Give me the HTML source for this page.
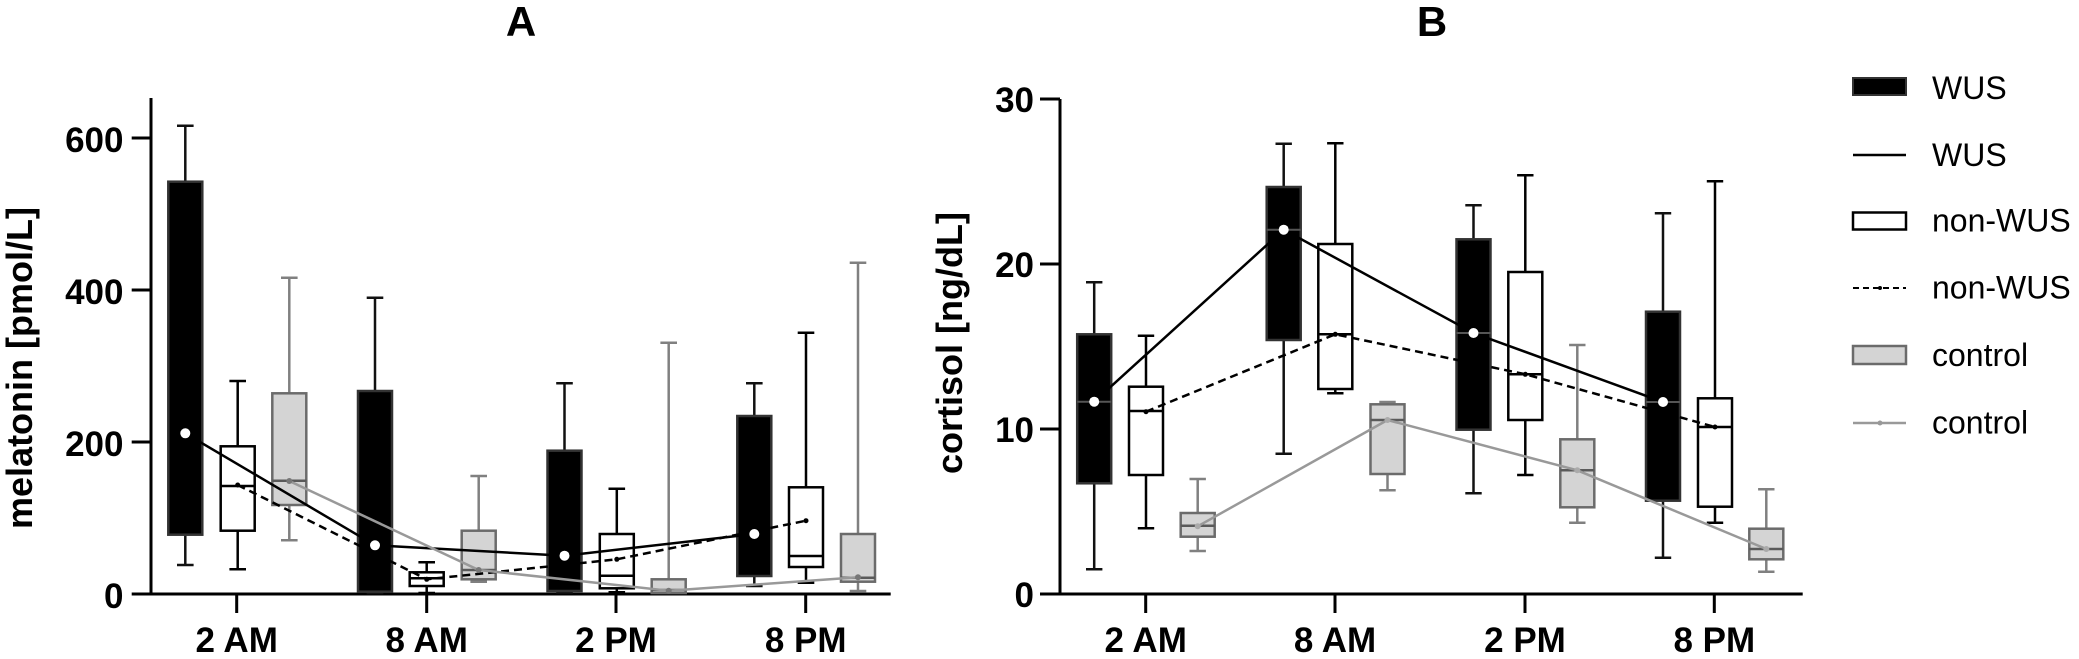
<!DOCTYPE html>
<html>
<head>
<meta charset="utf-8">
<style>
html,body{margin:0;padding:0;background:#fff;}
svg{display:block;}
text{font-family:"Liberation Sans",Arial,sans-serif;fill:#000;}
.ax{stroke:#000;stroke-width:3;fill:none;}
.tl{font-size:35px;font-weight:bold;}
.w line{stroke:#111;stroke-width:2.5;}
.w rect{fill:#000;stroke:#333;stroke-width:2.5;}
.w .md{stroke:#555;stroke-width:2;}
.n line{stroke:#000;stroke-width:2.5;}
.n rect{fill:#fff;stroke:#000;stroke-width:2.5;}
.c line{stroke:#808080;stroke-width:2.5;}
.c rect{fill:#d4d4d4;stroke:#6b6b6b;stroke-width:2.5;}
.c .md{stroke:#5a5a5a;stroke-width:2.5;}
.lw{stroke:#000;stroke-width:2.5;fill:none;}
.ln{stroke:#000;stroke-width:2.5;fill:none;stroke-dasharray:8 5;}
.lc{stroke:#999;stroke-width:2.5;fill:none;}
.leg{font-size:32px;}
</style>
</head>
<body>
<svg width="2079" height="659" viewBox="0 0 2079 659" xmlns="http://www.w3.org/2000/svg">
<rect width="2079" height="659" fill="#fff"/>

<!-- Titles -->
<text x="521" y="36" font-size="42" font-weight="bold" text-anchor="middle">A</text>
<text x="1432" y="36" font-size="42" font-weight="bold" text-anchor="middle">B</text>

<!-- ================= PANEL A ================= -->
<text transform="translate(32,368) rotate(-90)" font-size="36" font-weight="bold" text-anchor="middle">melatonin [pmol/L]</text>
<path class="ax" d="M151,98 V594 M131.7,138 H151 M131.7,290 H151 M131.7,442 H151 M131.7,594 H890.7 M236.7,594 V613 M426.7,594 V613 M616,594 V613 M805.7,594 V613"/>
<text class="tl" x="123.5" y="152" text-anchor="end">600</text>
<text class="tl" x="123.5" y="304" text-anchor="end">400</text>
<text class="tl" x="123.5" y="456" text-anchor="end">200</text>
<text class="tl" x="123.5" y="608" text-anchor="end">0</text>
<text class="tl" x="236.7" y="652" text-anchor="middle">2 AM</text>
<text class="tl" x="426.7" y="652" text-anchor="middle">8 AM</text>
<text class="tl" x="616" y="652" text-anchor="middle">2 PM</text>
<text class="tl" x="805.7" y="652" text-anchor="middle">8 PM</text>

<!-- A 2AM -->
<g class="w"><line x1="185.3" y1="125.7" x2="185.3" y2="565"/><line x1="177" y1="125.7" x2="193.6" y2="125.7"/><line x1="177" y1="565" x2="193.6" y2="565"/><rect x="168.3" y="181.7" width="34" height="353"/></g>
<g class="n"><line x1="237.7" y1="381" x2="237.7" y2="569.3"/><line x1="229.4" y1="381" x2="246" y2="381"/><line x1="229.4" y1="569.3" x2="246" y2="569.3"/><rect x="220.7" y="446.3" width="34" height="84.4"/><line x1="220.7" y1="486" x2="254.7" y2="486"/></g>
<g class="c"><line x1="289.3" y1="277.7" x2="289.3" y2="540.3"/><line x1="281" y1="277.7" x2="297.6" y2="277.7"/><line x1="281" y1="540.3" x2="297.6" y2="540.3"/><rect x="272.3" y="393.3" width="34" height="111.7"/><line class="md" x1="272.3" y1="480.7" x2="306.3" y2="480.7"/></g>
<!-- A 8AM -->
<g class="w"><line x1="375" y1="297.7" x2="375" y2="593.5"/><line x1="366.7" y1="297.7" x2="383.3" y2="297.7"/><line x1="366.7" y1="593" x2="383.3" y2="593"/><rect x="358" y="391" width="34" height="200.7"/></g>
<g class="n"><line x1="426.7" y1="562.3" x2="426.7" y2="593.3"/><line x1="418.4" y1="562.3" x2="435" y2="562.3"/><line x1="418.4" y1="593" x2="435" y2="593"/><rect x="409.7" y="572.3" width="34" height="13.7"/><line x1="409.7" y1="578.3" x2="443.7" y2="578.3"/></g>
<g class="c"><line x1="478.7" y1="476" x2="478.7" y2="581.7"/><line x1="470.4" y1="476" x2="487" y2="476"/><line x1="470.4" y1="581.7" x2="487" y2="581.7"/><rect x="461.7" y="530.7" width="34" height="48.6"/><line class="md" x1="461.7" y1="570" x2="495.7" y2="570"/></g>
<!-- A 2PM -->
<g class="w"><line x1="564.5" y1="383.3" x2="564.5" y2="592.5"/><line x1="556.2" y1="383.3" x2="572.8" y2="383.3"/><line x1="556.2" y1="592.5" x2="572.8" y2="592.5"/><rect x="547.5" y="450.7" width="34" height="140.3"/></g>
<g class="n"><line x1="616.8" y1="488.7" x2="616.8" y2="592.3"/><line x1="608.5" y1="488.7" x2="625.1" y2="488.7"/><line x1="608.5" y1="592.3" x2="625.1" y2="592.3"/><rect x="599.8" y="534" width="34" height="54.3"/><line x1="599.8" y1="575.7" x2="633.8" y2="575.7"/></g>
<g class="c"><line x1="668.7" y1="342.7" x2="668.7" y2="593.5"/><line x1="660.4" y1="342.7" x2="677" y2="342.7"/><rect x="651.7" y="579.3" width="34" height="13.7"/><line class="md" x1="651.7" y1="590" x2="685.7" y2="590"/></g>
<!-- A 8PM -->
<g class="w"><line x1="754.3" y1="383.3" x2="754.3" y2="586"/><line x1="746" y1="383.3" x2="762.6" y2="383.3"/><line x1="746" y1="586" x2="762.6" y2="586"/><rect x="737.3" y="416" width="34" height="160"/></g>
<g class="n"><line x1="806" y1="332.7" x2="806" y2="582.7"/><line x1="797.7" y1="332.7" x2="814.3" y2="332.7"/><line x1="797.7" y1="582.7" x2="814.3" y2="582.7"/><rect x="789" y="487.3" width="34" height="79.7"/><line x1="789" y1="556" x2="823" y2="556"/></g>
<g class="c"><line x1="858" y1="262.7" x2="858" y2="591"/><line x1="849.7" y1="262.7" x2="866.3" y2="262.7"/><line x1="849.7" y1="591" x2="866.3" y2="591"/><rect x="841" y="534" width="34" height="47.7"/><line class="md" x1="841" y1="577.7" x2="875" y2="577.7"/></g>

<!-- A connecting lines -->
<polyline class="lw" points="185.3,433.3 375,545.3 564.5,555.7 754.3,534"/>
<polyline class="ln" points="237.7,485 426.7,579.3 616.8,559.3 806,520.7"/>
<polyline class="lc" points="289.3,481 478.7,570 668.7,590.7 858,577.3"/>
<!-- A means -->
<g fill="#fff"><circle cx="185.3" cy="433.3" r="5"/><circle cx="375" cy="545.3" r="5"/><circle cx="564.5" cy="555.7" r="5"/><circle cx="754.3" cy="534" r="5"/></g>
<g fill="#000"><circle cx="237.7" cy="485" r="2.5"/><circle cx="426.7" cy="579.3" r="2.5"/><circle cx="616.8" cy="559.3" r="2.5"/><circle cx="806" cy="520.7" r="2.5"/></g>
<g fill="#777"><circle cx="289.3" cy="481" r="3"/><circle cx="478.7" cy="570" r="3"/><circle cx="668.7" cy="590.7" r="3"/><circle cx="858" cy="577.3" r="3"/></g>

<!-- ================= PANEL B ================= -->
<text transform="translate(962,343) rotate(-90)" font-size="36" font-weight="bold" text-anchor="middle">cortisol [ng/dL]</text>
<path class="ax" d="M1060,99 V594 M1040,99 H1060 M1040,264 H1060 M1040,429 H1060 M1040,594 H1802.7 M1145.7,594 V613 M1335,594 V613 M1525,594 V613 M1714.3,594 V613"/>
<text class="tl" x="1034" y="112" text-anchor="end">30</text>
<text class="tl" x="1034" y="277" text-anchor="end">20</text>
<text class="tl" x="1034" y="442" text-anchor="end">10</text>
<text class="tl" x="1034" y="607" text-anchor="end">0</text>
<text class="tl" x="1145.7" y="652" text-anchor="middle">2 AM</text>
<text class="tl" x="1335" y="652" text-anchor="middle">8 AM</text>
<text class="tl" x="1525" y="652" text-anchor="middle">2 PM</text>
<text class="tl" x="1714.3" y="652" text-anchor="middle">8 PM</text>

<!-- B 2AM -->
<g class="w"><line x1="1094.2" y1="282.3" x2="1094.2" y2="569.3"/><line x1="1086" y1="282.3" x2="1102.4" y2="282.3"/><line x1="1086" y1="569.3" x2="1102.4" y2="569.3"/><rect x="1077.2" y="334.3" width="34" height="149"/><line class="md" x1="1077.2" y1="401.7" x2="1111.2" y2="401.7"/></g>
<g class="n"><line x1="1146" y1="335.7" x2="1146" y2="528.3"/><line x1="1137.8" y1="335.7" x2="1154.2" y2="335.7"/><line x1="1137.8" y1="528.3" x2="1154.2" y2="528.3"/><rect x="1129" y="386.7" width="34" height="88.3"/><line x1="1129" y1="411" x2="1163" y2="411"/></g>
<g class="c"><line x1="1197.7" y1="479" x2="1197.7" y2="551"/><line x1="1189.5" y1="479" x2="1205.9" y2="479"/><line x1="1189.5" y1="551" x2="1205.9" y2="551"/><rect x="1180.7" y="513" width="34" height="23.7"/><line class="md" x1="1180.7" y1="525.7" x2="1214.7" y2="525.7"/></g>
<!-- B 8AM -->
<g class="w"><line x1="1283.7" y1="143.7" x2="1283.7" y2="453.7"/><line x1="1275.5" y1="143.7" x2="1291.9" y2="143.7"/><line x1="1275.5" y1="453.7" x2="1291.9" y2="453.7"/><rect x="1266.7" y="187" width="34" height="153"/><line class="md" x1="1266.7" y1="229.7" x2="1300.7" y2="229.7"/></g>
<g class="n"><line x1="1335.3" y1="143.3" x2="1335.3" y2="393.3"/><line x1="1327.1" y1="143.3" x2="1343.5" y2="143.3"/><line x1="1327.1" y1="393.3" x2="1343.5" y2="393.3"/><rect x="1318.3" y="244" width="34" height="145"/><line x1="1318.3" y1="334.3" x2="1352.3" y2="334.3"/></g>
<g class="c"><line x1="1387.5" y1="402" x2="1387.5" y2="490.3"/><line x1="1379.3" y1="402" x2="1395.7" y2="402"/><line x1="1379.3" y1="490.3" x2="1395.7" y2="490.3"/><rect x="1370.5" y="404.3" width="34" height="69.7"/><line class="md" x1="1370.5" y1="420" x2="1404.5" y2="420"/></g>
<!-- B 2PM -->
<g class="w"><line x1="1473.5" y1="205.3" x2="1473.5" y2="493.3"/><line x1="1465.3" y1="205.3" x2="1481.7" y2="205.3"/><line x1="1465.3" y1="493.3" x2="1481.7" y2="493.3"/><rect x="1456.5" y="239.3" width="34" height="190.4"/><line class="md" x1="1456.5" y1="333" x2="1490.5" y2="333"/></g>
<g class="n"><line x1="1525.3" y1="175.3" x2="1525.3" y2="475"/><line x1="1517.1" y1="175.3" x2="1533.5" y2="175.3"/><line x1="1517.1" y1="475" x2="1533.5" y2="475"/><rect x="1508.3" y="272" width="34" height="148"/><line x1="1508.3" y1="374.3" x2="1542.3" y2="374.3"/></g>
<g class="c"><line x1="1577.3" y1="345" x2="1577.3" y2="522.7"/><line x1="1569.1" y1="345" x2="1585.5" y2="345"/><line x1="1569.1" y1="522.7" x2="1585.5" y2="522.7"/><rect x="1560.3" y="439.3" width="34" height="68"/><line class="md" x1="1560.3" y1="470.3" x2="1594.3" y2="470.3"/></g>
<!-- B 8PM -->
<g class="w"><line x1="1663" y1="213.3" x2="1663" y2="557.7"/><line x1="1654.8" y1="213.3" x2="1671.2" y2="213.3"/><line x1="1654.8" y1="557.7" x2="1671.2" y2="557.7"/><rect x="1646" y="311.7" width="34" height="189"/><line class="md" x1="1646" y1="402" x2="1680" y2="402"/></g>
<g class="n"><line x1="1715" y1="181.3" x2="1715" y2="522.7"/><line x1="1706.8" y1="181.3" x2="1723.2" y2="181.3"/><line x1="1706.8" y1="522.7" x2="1723.2" y2="522.7"/><rect x="1698" y="398.3" width="34" height="108.4"/><line x1="1698" y1="427" x2="1732" y2="427"/></g>
<g class="c"><line x1="1766.3" y1="489.3" x2="1766.3" y2="571.7"/><line x1="1758.1" y1="489.3" x2="1774.5" y2="489.3"/><line x1="1758.1" y1="571.7" x2="1774.5" y2="571.7"/><rect x="1749.3" y="528.7" width="34" height="30.6"/><line class="md" x1="1749.3" y1="549" x2="1783.3" y2="549"/></g>

<!-- B connecting lines -->
<polyline class="lw" points="1094.2,401.7 1283.7,229.7 1473.5,333 1663,402"/>
<polyline class="ln" points="1146,411.7 1335.3,334.3 1525.3,374.3 1715,427"/>
<polyline class="lc" points="1197.7,526.3 1387.5,420 1577.3,470.3 1766.3,549"/>
<!-- B means -->
<g fill="#fff"><circle cx="1094.2" cy="401.7" r="5"/><circle cx="1283.7" cy="229.7" r="5"/><circle cx="1473.5" cy="333" r="5"/><circle cx="1663" cy="402" r="5"/></g>
<g fill="#000"><circle cx="1146" cy="411.7" r="2.5"/><circle cx="1335.3" cy="334.3" r="2.5"/><circle cx="1525.3" cy="374.3" r="2.5"/><circle cx="1715" cy="427" r="2.5"/></g>
<g fill="#aaa"><circle cx="1197.7" cy="526.3" r="3"/><circle cx="1387.5" cy="420" r="3"/><circle cx="1577.3" cy="470.3" r="3"/><circle cx="1766.3" cy="549" r="3"/></g>

<!-- ================= LEGEND ================= -->
<rect x="1853" y="78" width="53" height="17" fill="#000" stroke="#333" stroke-width="2"/>
<text class="leg" x="1932" y="99">WUS</text>
<line x1="1853" y1="155" x2="1906" y2="155" stroke="#000" stroke-width="2.5"/>
<text class="leg" x="1932" y="166">WUS</text>
<rect x="1853" y="212.5" width="53" height="17" fill="#fff" stroke="#000" stroke-width="2.5"/>
<text class="leg" x="1932" y="231.5">non-WUS</text>
<line x1="1853" y1="288" x2="1906" y2="288" stroke="#000" stroke-width="2" stroke-dasharray="6 4"/>
<circle cx="1880" cy="288" r="2" fill="#000"/>
<text class="leg" x="1932" y="298.5">non-WUS</text>
<rect x="1853" y="346" width="53" height="18" fill="#d4d4d4" stroke="#6b6b6b" stroke-width="2.5"/>
<text class="leg" x="1932" y="366">control</text>
<line x1="1853" y1="423" x2="1906" y2="423" stroke="#999" stroke-width="2.5"/>
<circle cx="1880" cy="423" r="2.5" fill="#999"/>
<text class="leg" x="1932" y="433.5">control</text>
</svg>
</body>
</html>
